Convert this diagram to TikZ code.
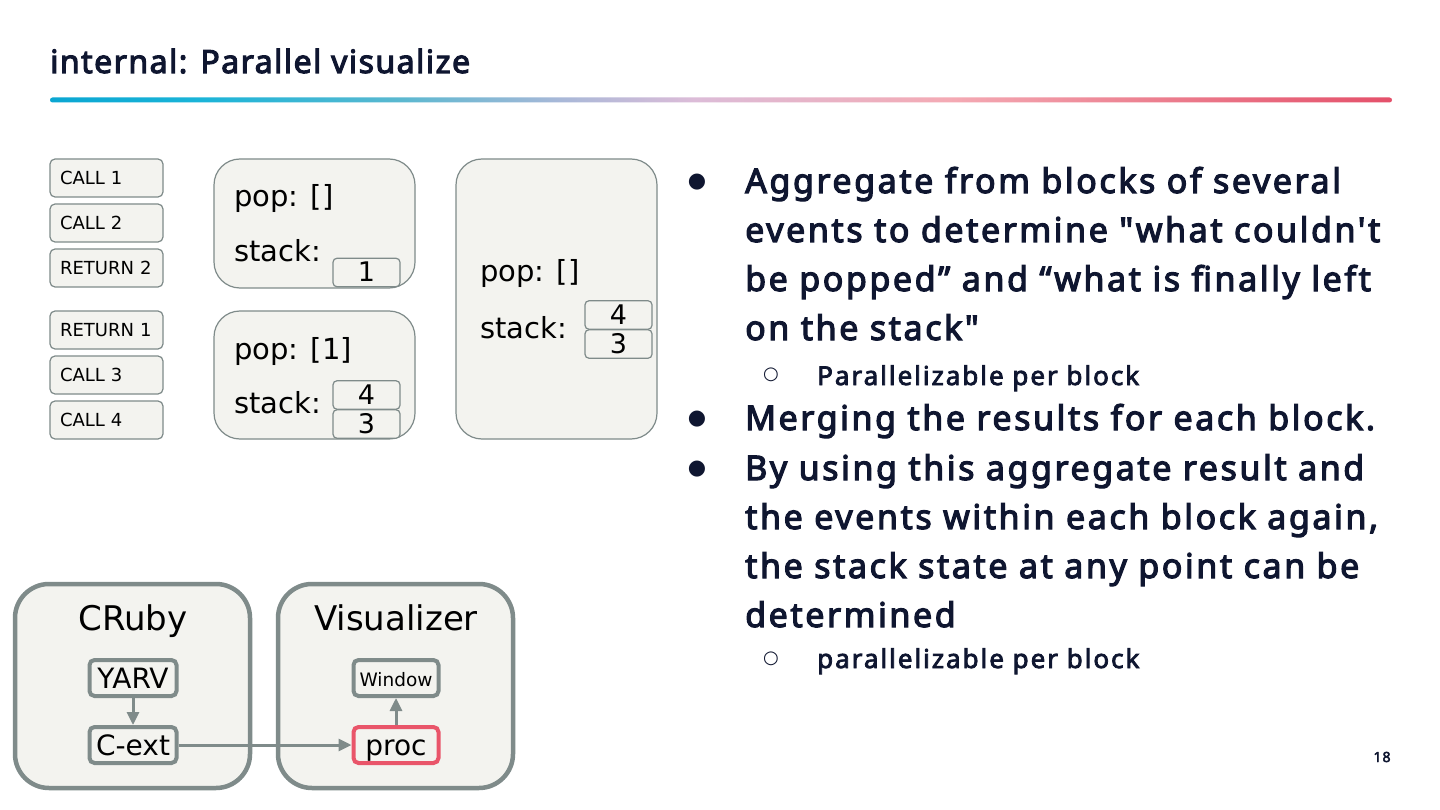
\documentclass[tikz,border=0pt]{standalone}
\usepackage{fontspec}
\setmainfont{Noto Sans}
\newfontfamily\nf{Noto Sans}
\newfontfamily\nfbt{Noto Sans}[FakeBold=3.4, LetterSpace=4.6]
\newfontfamily\nfb{Noto Sans}[FakeBold=3.4, LetterSpace=7.6]
\newfontfamily\nfbs{Noto Sans}[FakeBold=3, LetterSpace=7.6]
\newfontfamily\djs{DejaVu Sans}
\usetikzlibrary{arrows.meta}
\definecolor{ink}{HTML}{0F1630}
\definecolor{gry}{HTML}{7F8B8A}
\definecolor{bgc}{HTML}{F3F3EF}
\definecolor{redc}{HTML}{E9556A}
\definecolor{g1}{HTML}{0AA6D2}
\definecolor{g2}{HTML}{1AB4D8}
\definecolor{g3}{HTML}{5AB8D0}
\definecolor{g4}{HTML}{A8B8D8}
\definecolor{g5}{HTML}{DCBCD8}
\definecolor{g6}{HTML}{F4AAB4}
\definecolor{g7}{HTML}{EC8090}
\definecolor{g8}{HTML}{E4506A}
\pgfdeclarehorizontalshading{titlegrad}{100bp}{color(0bp)=(g1); color(25bp)=(g1); color(30.6bp)=(g2); color(38bp)=(g3); color(44bp)=(g4); color(49bp)=(g5); color(58.5bp)=(g6); color(66bp)=(g7); color(75bp)=(g8); color(100bp)=(g8)}
\tikzset{
  evt/.style={draw=gry, line width=1.2pt, fill=bgc, rounded corners=5pt,
    minimum width=113pt, minimum height=38pt, inner xsep=10pt, inner ysep=0pt,
    text width=93pt, align=left, font=\djs\fontsize{18}{20}\selectfont, text=black},
  blk/.style={draw=gry, line width=1.2pt, fill=bgc, rounded corners=26pt, inner sep=0pt},
  cell/.style={draw=gry, line width=1.2pt, fill=bgc, rounded corners=4pt,
    minimum width=67pt, minimum height=28.5pt, inner sep=0pt, text height=19pt, text depth=0pt,
    font=\djs\fontsize{27}{27}\selectfont},
  lbl/.style={anchor=base west, inner sep=0pt, font=\djs\fontsize{29}{29}\selectfont},
  outer/.style={draw=gry, line width=4.5pt, fill=bgc, rounded corners=34pt, inner sep=0pt},
  inbox/.style={draw=gry, line width=4pt, fill=bgc, rounded corners=5pt,
    minimum width=85pt, minimum height=36pt, inner sep=0pt, text height=22pt, text depth=2pt,
    font=\djs\fontsize{28}{28}\selectfont},
  conn/.style={draw=gry, line width=3pt, -{Triangle[length=13pt,width=12pt]}},
  btxt/.style={anchor=base west, inner sep=0pt, text=ink, font=\nfb\fontsize{34}{34}\selectfont},
  stxt/.style={anchor=base west, inner sep=0pt, text=ink, font=\nfbs\fontsize{26}{26}\selectfont},
  bul/.style={anchor=center, inner sep=0pt, text=ink, font=\djs\fontsize{21}{21}\selectfont},
  sbul/.style={anchor=center, inner sep=0pt, text=ink, font=\djs\fontsize{18}{18}\selectfont},
}
\begin{document}
\begin{tikzpicture}[x=1pt,y=-1pt]
\useasboundingbox[fill=white] (0,0) rectangle (1440,810);
% title
\node[anchor=base west, inner sep=0pt, text=ink, font=\nfbt\fontsize{32}{32}\selectfont] (title) at (50,73) {internal: Parallel visualize};
\shade[shading=titlegrad, rounded corners=2.5pt] (50,97.5) rectangle (1392,102.5);
% events
\node[evt] (e1) at (106.5,178) {CALL 1};
\node[evt] (e2) at (106.5,223) {CALL 2};
\node[evt] (e3) at (106.5,268) {RETURN 2};
\node[evt] (e4) at (106.5,330) {RETURN 1};
\node[evt] (e5) at (106.5,375) {CALL 3};
\node[evt] (e6) at (106.5,420) {CALL 4};
% block 1
\draw[blk] (214,159) rectangle (415,288);
\node[lbl] (p1) at (234,207) {pop: []};
\node[lbl] (s1) at (234,262) {stack:};
\node[cell] (c1) at (366.5,272.5) {1};
% block 2
\draw[blk] (214,311) rectangle (415,439);
\node[lbl] (p2) at (234,359) {pop: [1]};
\node[lbl] (s2) at (234,413) {stack:};
\node[cell] (c24) at (366.5,395) {4};
\node[cell] (c23) at (366.5,424) {3};
% block 3
\draw[blk] (456,159) rectangle (657,439);
\node[lbl] (p3) at (480,282) {pop: []};
\node[lbl] (s3) at (480,338) {stack:};
\node[cell] (c34) at (618.5,315) {4};
\node[cell] (c33) at (618.5,344) {3};
% bottom
\draw[outer] (15,584) rectangle (250,788);
\node[font=\djs\fontsize{34}{34}\selectfont, anchor=base] (cr) at (133,630) {CRuby};
\draw[outer] (278,584) rectangle (513,788);
\node[font=\djs\fontsize{34}{34}\selectfont, anchor=base] (vz) at (396,630) {Visualizer};
\node[inbox, minimum width=87pt] (yarv) at (133,678) {YARV};
\node[inbox, minimum width=87pt] (cext) at (133,745) {C-ext};
\node[inbox, font=\djs\fontsize{18.5}{19}\selectfont, text height=17pt, text depth=1pt] (win) at (396,678) {Window};
\node[inbox, draw=redc] (proc) at (396,745) {proc};
\draw[conn] (yarv) -- (cext);
\draw[conn] (proc) -- (win);
\draw[conn] (cext) -- (proc);
% bullets
\node[bul] (b1) at (697,182) {●};
\node[btxt] (t11) at (745,193) {Aggregate from blocks of several};
\node[btxt] (t12) at (745,242) {events to determine "what couldn't};
\node[btxt] (t13) at (745,291) {be popped” and “what is finally left};
\node[btxt] (t14) at (745,340) {on the stack"};
\node[sbul] (sb1) at (771,375) {○};
\node[stxt] (st1) at (817,385) {Parallelizable per block};
\node[bul] (b2) at (697,419) {●};
\node[btxt] (t21) at (745,430) {Merging the results for each block.};
\node[bul] (b3) at (697,469) {●};
\node[btxt] (t31) at (745,480) {By using this aggregate result and};
\node[btxt] (t32) at (745,529) {the events within each block again,};
\node[btxt] (t33) at (745,578) {the stack state at any point can be};
\node[btxt] (t34) at (745,627) {determined};
\node[sbul] (sb2) at (771,659) {○};
\node[stxt] (st2) at (817,668) {parallelizable per block};
\node[anchor=base, inner sep=0pt, text=ink, font=\nfbs\fontsize{14}{14}\selectfont] (pg) at (1382,762) {18};
\end{tikzpicture}
\end{document}
